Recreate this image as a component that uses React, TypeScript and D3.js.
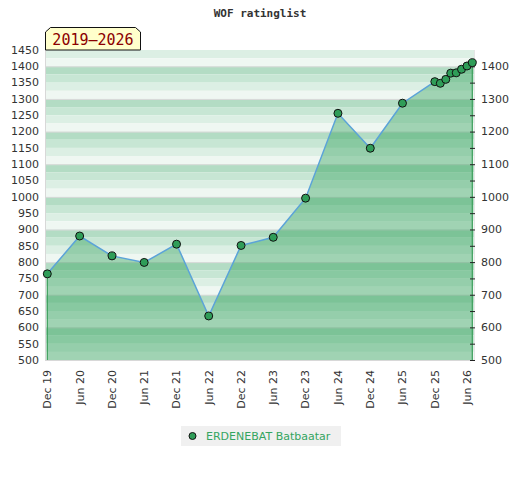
import * as d3 from 'd3';

// rating history
const DATES = [
  '2019-12', '2020-06', '2020-12', '2021-06', '2021-12', '2022-06', '2022-12',
  '2023-06', '2023-12', '2024-06', '2024-12', '2025-06', '2025-12', '2026-01',
  '2026-02', '2026-03', '2026-04', '2026-05', '2026-06', '2026-07',
];
const RATINGS = [
  764, 880, 819, 799, 855, 635, 851, 876, 996, 1256, 1149, 1287, 1353, 1348,
  1360, 1379, 1380, 1391, 1401, 1411,
];
const LEFT_TICKS = d3.range(500, 1451, 50);
const RIGHT_TICKS = d3.range(500, 1401, 100);
const X_TICKS = [
  '2019-12', '2020-06', '2020-12', '2021-06', '2021-12', '2022-06', '2022-12',
  '2023-06', '2023-12', '2024-06', '2024-12', '2025-06', '2025-12', '2026-06',
];
const PLAYER = 'ERDENEBAT Batbaatar';
const PERIOD = '2019–2026';
const TITLE = 'WOF ratinglist';

const STRIPES = ['#b3dcc4', '#c7e6d4', '#dcefe4', '#eff7f2'];

const parse = d3.timeParse('%Y-%m');
const fmt = d3.timeFormat('%b %y');

export default function App() {
  const width = 520;
  const height = 480;
  const plot = { left: 46, right: 474, top: 50, bottom: 360 };

  const x = d3.scaleTime()
    .domain([parse('2019-12')!, parse('2026-07')!])
    .range([47.3, 472.3]);
  const y = d3.scaleLinear().domain([500, 1450]).range([plot.bottom, plot.top]);

  const pts = DATES.map((d, i) => ({ date: parse(d)!, v: RATINGS[i] }));

  const area = d3.area<{ date: Date; v: number }>()
    .x(d => x(d.date))
    .y0(y(500))
    .y1(d => y(d.v));
  const line = d3.line<{ date: Date; v: number }>()
    .x(d => x(d.date))
    .y(d => y(d.v));

  // background stripes: four shades per 100 points
  const stripes: { y0: number; y1: number; fill: string }[] = [];
  for (let base = 500; base < 1500; base += 100) {
    for (let q = 0; q < 4; q++) {
      const top = Math.min(base + 100 - q * 25, 1450);
      const bot = base + 100 - (q + 1) * 25;
      if (bot >= 1450) continue;
      stripes.push({ y0: y(top), y1: y(bot), fill: STRIPES[q] });
    }
  }

  const first = pts[0];
  const last = pts[pts.length - 1];
  const font = 'DejaVu Sans, Verdana, sans-serif';

  return (
    <svg width={width} height={height} style={{ display: 'block', margin: -8 }}>
      <rect width={width} height={height} fill="#fff" />
      <text x={260} y={17} textAnchor="middle" fontFamily="DejaVu Sans Mono, monospace"
        fontWeight="bold" fontSize={11} fill="#333">{TITLE}</text>

      {stripes.map((s, i) => (
        <rect key={i} x={plot.left} y={s.y0} width={plot.right - plot.left}
          height={s.y1 - s.y0} fill={s.fill} />
      ))}
      {RIGHT_TICKS.map(t => (
        <line key={t} x1={plot.left} x2={plot.right} y1={y(t) + 0.5} y2={y(t) + 0.5}
          stroke="#dadada" />
      ))}

      <path d={area(pts) ?? ''} fill="rgba(42,157,84,0.4)" />
      <line x1={x(first.date)} x2={x(first.date)} y1={y(first.v)} y2={y(500)}
        stroke="#3a9e5a" strokeWidth={1.2} />
      <line x1={x(last.date)} x2={x(last.date)} y1={y(last.v)} y2={y(500)}
        stroke="#3a9e5a" strokeWidth={1.2} />

      {/* plot border */}
      <line x1={plot.left - 0.5} x2={plot.left - 0.5} y1={plot.top} y2={plot.bottom + 1}
        stroke="#d8d8d8" />
      <line x1={plot.right + 0.5} x2={plot.right + 0.5} y1={plot.top} y2={plot.bottom + 1}
        stroke="#e6e6e6" />
      <line x1={plot.left - 1} x2={plot.right + 1} y1={plot.bottom + 0.5} y2={plot.bottom + 0.5}
        stroke="#d8d8d8" />

      <path d={line(pts) ?? ''} fill="none" stroke="#5ba3d8" strokeWidth={1.5} />
      {pts.map((p, i) => (
        <circle key={i} cx={x(p.date)} cy={y(p.v)} r={4} fill="#2f9d58"
          stroke="#111" strokeWidth={1} />
      ))}

      {/* left axis labels */}
      {LEFT_TICKS.map(t => (
        <text key={t} x={39} y={y(t)} dy="0.35em" textAnchor="end" fontFamily={font}
          fontSize={11} fill="#333">{t}</text>
      ))}

      {/* right axis */}
      {LEFT_TICKS.filter(t => t <= 1400).map(t => (
        <line key={t} x1={470} x2={475} y1={y(t) + 0.5} y2={y(t) + 0.5} stroke="#222" />
      ))}
      {RIGHT_TICKS.map(t => (
        <text key={t} x={481} y={y(t)} dy="0.35em" fontFamily={font} fontSize={11}
          fill="#333">{t}</text>
      ))}

      {/* x labels */}
      {X_TICKS.map(t => {
        const d = parse(t)!;
        return (
          <text key={t} transform={`translate(${x(d)},370) rotate(-90)`} dy="0.35em"
            textAnchor="end" fontFamily={font} fontSize={11} fill="#333">{fmt(d)}</text>
        );
      })}

      {/* period badge */}
      <path d="M45.5,50 L45.5,32 L50.5,27.5 L135.5,27.5 L140.5,32 L140.5,50 Z"
        fill="#ffffcc" stroke="#111" />
      <text x={93} y={44.5} textAnchor="middle" fontFamily="DejaVu Sans Mono, monospace"
        fontSize={15} fill="#8b0000">{PERIOD}</text>

      {/* legend */}
      <rect x={181} y={426} width={160} height={20} fill="#f0f0f0" />
      <circle cx={192.5} cy={436} r={3.5} fill="#2f9d58" stroke="#111" />
      <text x={206} y={436} dy="0.35em" fontFamily={font} fontSize={11} fill="#34a560">
        {PLAYER}
      </text>
    </svg>
  );
}
